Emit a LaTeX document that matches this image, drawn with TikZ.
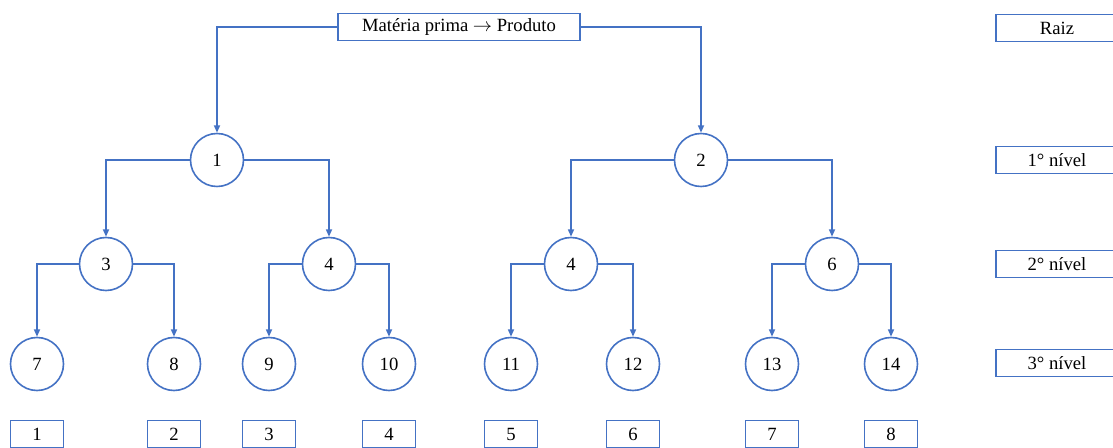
\documentclass[tikz,border=0pt]{standalone}
\usepackage{fontspec}
\setmainfont{Liberation Serif}
\usetikzlibrary{arrows.meta,shapes}

\begin{document}
\begin{tikzpicture}[x=0.75pt,y=-0.75pt,font=\fontsize{14}{16}\selectfont,
		vertex/.style={circle,draw=linecolor,line width=1.2pt,minimum size=39.75pt,inner sep=0pt},
		box/.style={rectangle,draw=linecolor,line width=1.2pt,minimum height=20.25pt,inner sep=0pt},
		level/.style={box,minimum width=91.5pt},
		leaf/.style={box,minimum width=39.75pt},
		edge/.style={draw=linecolor,line width=1.2pt,-{Triangle[length=5.5pt,width=4.5pt]}}]
				\definecolor{linecolor}{HTML}{4472C4}
				\useasboundingbox (0,0) rectangle (1113,448);
				\clip (0,0) rectangle (1113,448);
				%% Root ------
				\node[box,minimum width=181.5pt] (root) at (459,27) {Matéria prima $\rightarrow$ Produto};
				%% Vertices ------
				\node[vertex] (v1) at (217,160) {1};
				\node[vertex] (v2) at (701,160) {2};
				\node[vertex] (v3) at (106,264) {3};
				\node[vertex] (v4a) at (329,264) {4};
				\node[vertex] (v4b) at (571,264) {4};
				\node[vertex] (v6) at (832,264) {6};
				\node[vertex] (v7) at (37,364) {7};
				\node[vertex] (v8) at (174,364) {8};
				\node[vertex] (v9) at (269,364) {9};
				\node[vertex] (v10) at (389,364) {10};
				\node[vertex] (v11) at (511,364) {11};
				\node[vertex] (v12) at (633,364) {12};
				\node[vertex] (v13) at (772,364) {13};
				\node[vertex] (v14) at (891,364) {14};
				%% Leaf order ------
				\node[leaf] (b1) at (37,434) {1};
				\node[leaf] (b2) at (174,434) {2};
				\node[leaf] (b3) at (269,434) {3};
				\node[leaf] (b4) at (389,434) {4};
				\node[leaf] (b5) at (511,434) {5};
				\node[leaf] (b6) at (633,434) {6};
				\node[leaf] (b7) at (772,434) {7};
				\node[leaf] (b8) at (891,434) {8};
				%% Levels ------
				\node[level] (l0) at (1057,28) {Raiz};
				\node[level] (l1) at (1057,160) {1° nível};
				\node[level] (l2) at (1057,264) {2° nível};
				\node[level] (l3) at (1057,363) {3° nível};
				%% Edges ---------
				\draw[edge] (root.west) -| (v1);
				\draw[edge] (root.east) -| (v2);
				\draw[edge] (v1.west) -| (v3);
				\draw[edge] (v1.east) -| (v4a);
				\draw[edge] (v2.west) -| (v4b);
				\draw[edge] (v2.east) -| (v6);
				\draw[edge] (v3.west) -| (v7);
				\draw[edge] (v3.east) -| (v8);
				\draw[edge] (v4a.west) -| (v9);
				\draw[edge] (v4a.east) -| (v10);
				\draw[edge] (v4b.west) -| (v11);
				\draw[edge] (v4b.east) -| (v12);
				\draw[edge] (v6.west) -| (v13);
				\draw[edge] (v6.east) -| (v14);
			\end{tikzpicture}
\end{document}
